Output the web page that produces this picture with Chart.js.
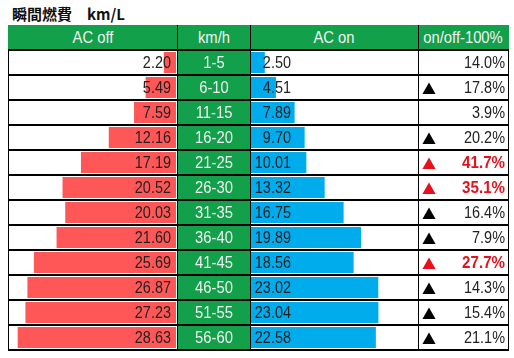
<!DOCTYPE html>
<html>
<head>
<meta charset="utf-8">
<script src="https://cdn.jsdelivr.net/npm/chart.js@4"></script>
<style>
  body { margin: 0; background: #fff; }
  #wrap { position: relative; width: 514px; height: 358px; overflow: hidden; font-family: "Liberation Sans", Arial, sans-serif; font-size: 17px; color: #222; }
  #title { position: absolute; left: 12px; top: 3px; font-family: "Noto Sans CJK JP", sans-serif; font-weight: bold; font-size: 15px; color: #111; white-space: pre; }
  .fill { position: absolute; }
  .ln { position: absolute; background: #000; z-index: 3; }
  .txt { position: absolute; width: 200px; height: 25px; line-height: 26px; white-space: nowrap; z-index: 2; }
  canvas { position: absolute; }
</style>
</head>
<body>
<div id="wrap">
  <div id="title">瞬間燃費　km/L</div>
  <canvas id="offChart" width="167" height="300" style="left:9px;top:50px"></canvas>
  <canvas id="onChart" width="167" height="300" style="left:251px;top:50px"></canvas>
</div>
<script>
var headers = ['AC off', 'km/h', 'AC on', 'on/off-100%'];
var speeds = ['1-5', '6-10', '11-15', '16-20', '21-25', '26-30', '31-35', '36-40', '41-45', '46-50', '51-55', '56-60'];
var acOff = [2.20, 5.49, 7.59, 12.16, 17.19, 20.52, 20.03, 21.60, 25.69, 26.87, 27.23, 28.63];
var acOn = [2.50, 4.51, 7.89, 9.70, 10.01, 13.32, 16.75, 19.89, 18.56, 23.02, 23.04, 22.58];
var ratio = [14.0, -17.8, 3.9, -20.2, -41.7, -35.1, -16.4, -7.9, -27.7, -14.3, -15.4, -21.1];

var green = '#12a04a';
var red = '#e8101a';
var cols = [8, 177, 250, 418, 508];
var top0 = 25, rowH = 25;
var wrap = document.getElementById('wrap');

function add(cls, css, text) {
  var d = document.createElement('div');
  d.className = cls;
  d.style.cssText = css;
  if (text != null) d.textContent = text;
  wrap.appendChild(d);
  return d;
}

// text squeezed horizontally to match the narrow spreadsheet font
function label(text, x, y, align, sx, css) {
  var left = align === 'right' ? x - 200 : align === 'center' ? x - 100 : x;
  add('txt', 'left:' + left + 'px;top:' + y + 'px;text-align:' + align +
    ';transform:scaleX(' + sx + ');transform-origin:' + align + ' center;' + (css || ''), text);
}

// header + km/h column fill
add('fill', 'left:8px;top:' + top0 + 'px;width:501px;height:' + rowH + 'px;background:' + green);
add('fill', 'left:177px;top:' + (top0 + rowH) + 'px;width:73px;height:' + (rowH * speeds.length) + 'px;background:' + green);

// header text
headers.forEach(function (h, i) {
  label(h, (cols[i] + cols[i + 1]) / 2, top0, 'center', 0.87, 'color:#f2f2f2');
});

// body text
speeds.forEach(function (s, r) {
  var y = top0 + rowH * (r + 1);
  label(acOff[r].toFixed(2), 171, y, 'right', 0.85);
  label(s, 213.5, y, 'center', 0.87, 'color:#f2f2f2');
  label(acOn[r].toFixed(2), 291, y, 'right', 0.85);
  var v = ratio[r];
  var hot = Math.abs(v) > 25;
  if (v < 0) {
    add('txt', 'left:422px;top:' + y + 'px;width:20px;font-family:\'Noto Sans CJK JP\',sans-serif;font-size:14px;color:' + (hot ? red : '#000'), '▲');
  }
  label(Math.abs(v).toFixed(1) + '%', 505, y, 'right', hot ? 0.89 : 0.85,
    hot ? 'color:' + red + ';font-weight:bold' : '');
});

// grid lines
for (var r = 1; r <= speeds.length + 1; r++) {
  add('ln', 'left:8px;top:' + (top0 + rowH * r - 1) + 'px;width:501px;height:2px');
}
cols.forEach(function (x, i) {
  var t = (i === 0 || i === cols.length - 1) ? top0 + rowH : top0;
  add('ln', 'left:' + x + 'px;top:' + t + 'px;width:1px;height:' + (top0 + rowH * (speeds.length + 1) - t + 1) + 'px');
});

function barChart(id, values, color, reverse) {
  return new Chart(document.getElementById(id), {
    type: 'bar',
    data: {
      labels: speeds,
      datasets: [{ data: values, backgroundColor: color, borderWidth: 0, barPercentage: 0.84, categoryPercentage: 1 }]
    },
    options: {
      indexAxis: 'y',
      responsive: false,
      animation: false,
      layout: { padding: 0 },
      plugins: { legend: { display: false }, tooltip: { enabled: false } },
      scales: {
        x: { display: false, min: 0, max: 30.2, reverse: reverse },
        y: { display: false }
      }
    }
  });
}

barChart('offChart', acOff, '#ff5757', true);
barChart('onChart', acOn, '#00acec', false);
</script>
</body>
</html>
